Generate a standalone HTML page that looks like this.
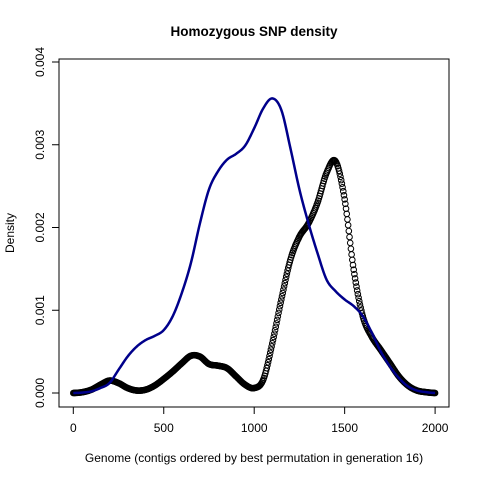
<!DOCTYPE html>
<html><head><meta charset="utf-8"><style>
body{margin:0;background:#fff;}
svg{display:block;font-family:"Liberation Sans",Arial,sans-serif;}
</style></head><body>
<svg id="chart" width="480" height="480" viewBox="0 0 480 480">
<rect width="480" height="480" fill="#fff"/>
<text x="254" y="36" text-anchor="middle" font-size="13.5" font-weight="bold">Homozygous SNP density</text>
<text x="254" y="462" text-anchor="middle" font-size="12">Genome (contigs ordered by best permutation in generation 16)</text>
<text transform="translate(14,233) rotate(-90)" text-anchor="middle" font-size="12">Density</text>
<g id="axes"></g>
<g id="series"></g>
<rect x="59" y="59" width="390" height="348" fill="none" stroke="#000" stroke-width="1"/>
</svg>
<script>
const xs = [0,50,100,150,200,250,300,350,400,450,500,550,600,650,700,750,800,850,900,950,1000,1050,1100,1150,1200,1250,1300,1350,1400,1450,1500,1550,1600,1650,1700,1750,1800,1850,1900,1950,2000];
const blueVals = [0,0.005,0.02,0.06,0.12,0.28,0.44,0.56,0.64,0.69,0.76,0.93,1.21,1.57,2.05,2.46,2.68,2.82,2.89,2.99,3.20,3.44,3.56,3.42,2.96,2.46,2.05,1.69,1.37,1.23,1.13,1.05,0.93,0.73,0.50,0.32,0.18,0.08,0.03,0.01,0];
const blackVals = [0,0.01,0.04,0.10,0.15,0.12,0.06,0.03,0.04,0.09,0.17,0.26,0.36,0.45,0.44,0.35,0.33,0.30,0.20,0.10,0.06,0.16,0.60,1.13,1.61,1.89,2.05,2.30,2.66,2.80,2.34,1.49,0.93,0.68,0.52,0.36,0.20,0.09,0.03,0.01,0];
const xTicks = [0,500,1000,1500,2000];
const yTicks = [0,0.001,0.002,0.003,0.004];
const yTickLabels = ["0.000","0.001","0.002","0.003","0.004"];

const NS="http://www.w3.org/2000/svg";
const X = v => 73.3 + v*0.1809;
const Y = d => 393 - d*82750;
function mk(t,a,p){const e=document.createElementNS(NS,t);for(const k in a)e.setAttribute(k,a[k]);p.appendChild(e);return e;}
const axes=document.getElementById('axes'), series=document.getElementById('series');
mk('line',{x1:X(0),x2:X(2000),y1:407,y2:407,stroke:'#000'},axes);
xTicks.forEach(v=>{
  const l=mk('line',{x1:X(v),x2:X(v),y1:407,y2:414,stroke:'#000'},axes);
  
  
  const t=mk('text',{x:X(v),y:432,'text-anchor':'middle','font-size':'12'},axes);
  
  
  t.textContent=v;
});
mk('line',{x1:59,x2:59,y1:Y(0),y2:Y(0.004),stroke:'#000'},axes);
yTicks.forEach((v,i)=>{
  const l=mk('line',{x1:52,x2:59,y1:Y(v),y2:Y(v),stroke:'#000'},axes);
  
  
  const t=mk('text',{transform:`translate(44,${Y(v)}) rotate(-90)`,'text-anchor':'middle','font-size':'12'},axes);
  
  
  t.textContent=yTickLabels[i];
});
function sample(vals,steps){
  const pts=[];
  for(let i=0;i<xs.length-1;i++){
    const p0=vals[Math.max(0,i-1)],p1=vals[i],p2=vals[i+1],p3=vals[Math.min(vals.length-1,i+2)];
    for(let s=0;s<steps;s++){
      const t=s/steps;
      const v=0.5*((2*p1)+(-p0+p2)*t+(2*p0-5*p1+4*p2-p3)*t*t+(-p0+3*p1-3*p2+p3)*t*t*t);
      pts.push([xs[i]+(xs[i+1]-xs[i])*t, Math.max(0,v)/1000]);
    }
  }
  pts.push([xs[xs.length-1],vals[vals.length-1]/1000]);
  return pts;
}
const bp=sample(blackVals,13);
const g=mk('g',{},series);


bp.forEach(p=>{
  const c=mk('circle',{cx:X(p[0]),cy:Y(p[1]),r:2.8,fill:'none',stroke:'#000','stroke-width':1},g);
  
  
});
const lp=sample(blueVals,10);
const path=mk('path',{d:'M'+lp.map(p=>X(p[0]).toFixed(2)+','+Y(p[1]).toFixed(2)).join('L'),fill:'none',stroke:'#00008b','stroke-width':2.5,'stroke-linejoin':'round'},series);


</script>
</body></html>
